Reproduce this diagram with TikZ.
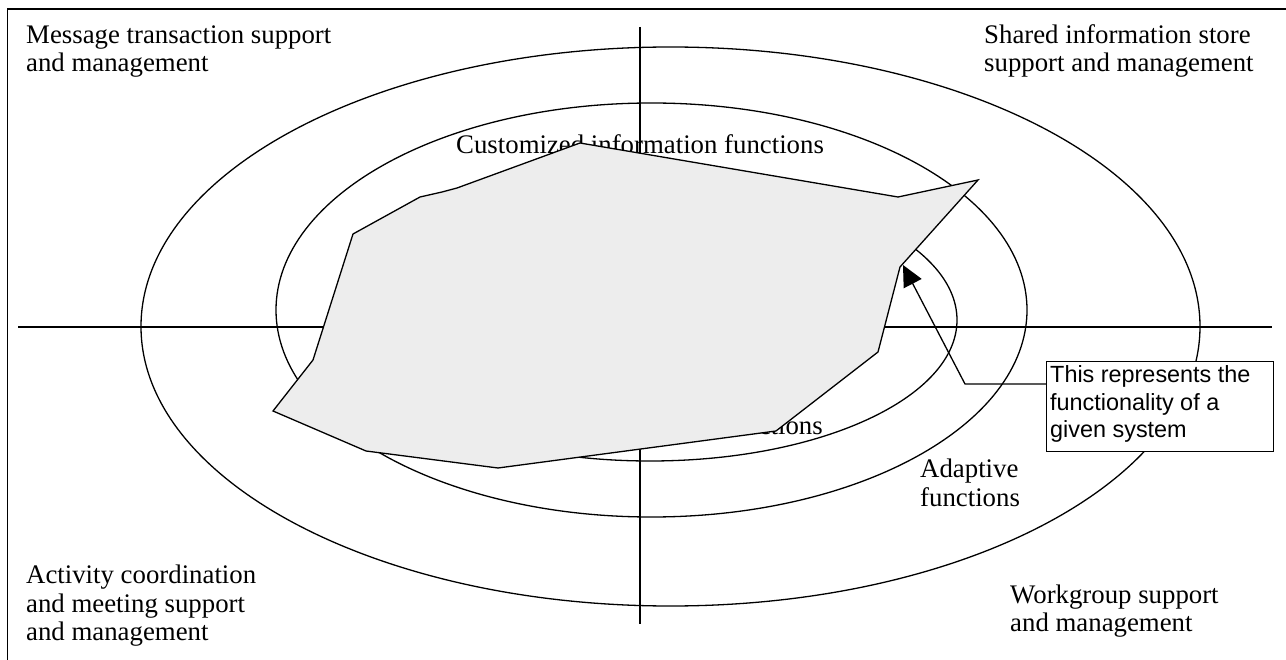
\documentclass[tikz,border=0pt]{standalone}
\usepackage{fontspec}
\setmainfont{Liberation Serif}
\newfontfamily\calloutsans{Liberation Sans}
\usetikzlibrary{arrows.meta}
\begin{document}
\begin{tikzpicture}[x=1pt,y=-1pt,
  ln/.style={line width=1.3pt, black},
  lbl/.style={font=\fontsize{26.8}{28.3}\selectfont, inner sep=0pt, anchor=base west},
  clbl/.style={font=\calloutsans\fontsize{23.4}{27}\selectfont, inner sep=0pt, anchor=base west},
  polyshape/.style={ln, fill=polygray, line join=miter},
  cbox/.style={ln, fill=white, draw, anchor=north west, inner sep=0pt, minimum width=227pt, minimum height=90pt},
]
\definecolor{polygray}{RGB}{237,237,237}
\useasboundingbox (0,0) rectangle (1286,660);
% frame
\draw[ln] (7.5,662) -- (7.5,9) -- (1288,9);
% axes
\coordinate (hl) at (18,327);
\coordinate (hr) at (1272,327);
\coordinate (vt) at (640,27);
\coordinate (vb) at (640,624);
\draw[ln] (hl) -- (hr);
\draw[ln] (vt) -- (vb);
% ellipses
\draw[ln] (670.5,326.5) ellipse [x radius=529.5pt, y radius=279.5pt];
\draw[ln] (651.5,310) ellipse [x radius=375.5pt, y radius=207pt];
\draw[ln] (650,320) ellipse [x radius=307pt, y radius=141pt];
% corner labels
\node[lbl] (mt1) at (26,44) {Message transaction support};
\node[lbl] (mt2) at (26,72) {and management};
\node[lbl] (si1) at (984,44) {Shared information store};
\node[lbl] (si2) at (984,72) {support and management};
\node[lbl] (ac1) at (26,583) {Activity coordination};
\node[lbl] (ac2) at (26,612) {and meeting support};
\node[lbl] (ac3) at (26,640) {and management};
\node[lbl] (wg1) at (1010,603) {Workgroup support};
\node[lbl] (wg2) at (1010,631) {and management};
% ring labels
\node[lbl] (cust) at (456,154) {Customized information functions};
\node[lbl, anchor=base east] (core) at (823,435) {functions};
\node[lbl] (ad1) at (920,477) {Adaptive};
\node[lbl] (ad2) at (920,506) {functions};
% functionality polygon
\draw[polyshape] (580,143) -- (898,197) -- (978,180) -- (900,267) -- (878,352)
  -- (776,431) -- (498,468) -- (366,451) -- (273,411) -- (313,360) -- (353,234)
  -- (420,197) -- (442,192) -- (457,188) -- cycle;
% callout
\node[cbox] (callout) at (1046,361) {};
\node[clbl] (c1) at (1050,383) {This represents the};
\node[clbl] (c2) at (1050,410) {functionality of a};
\node[clbl] (c3) at (1050,437) {given system};
\coordinate (cstart) at (callout.west |- 0,384);
\coordinate (bend) at (965,384);
\coordinate (tip) at (903,265);
\draw[ln, -{Triangle[length=21pt, width=20pt]}] (cstart) -- (bend) -- (tip);
\end{tikzpicture}
\end{document}
